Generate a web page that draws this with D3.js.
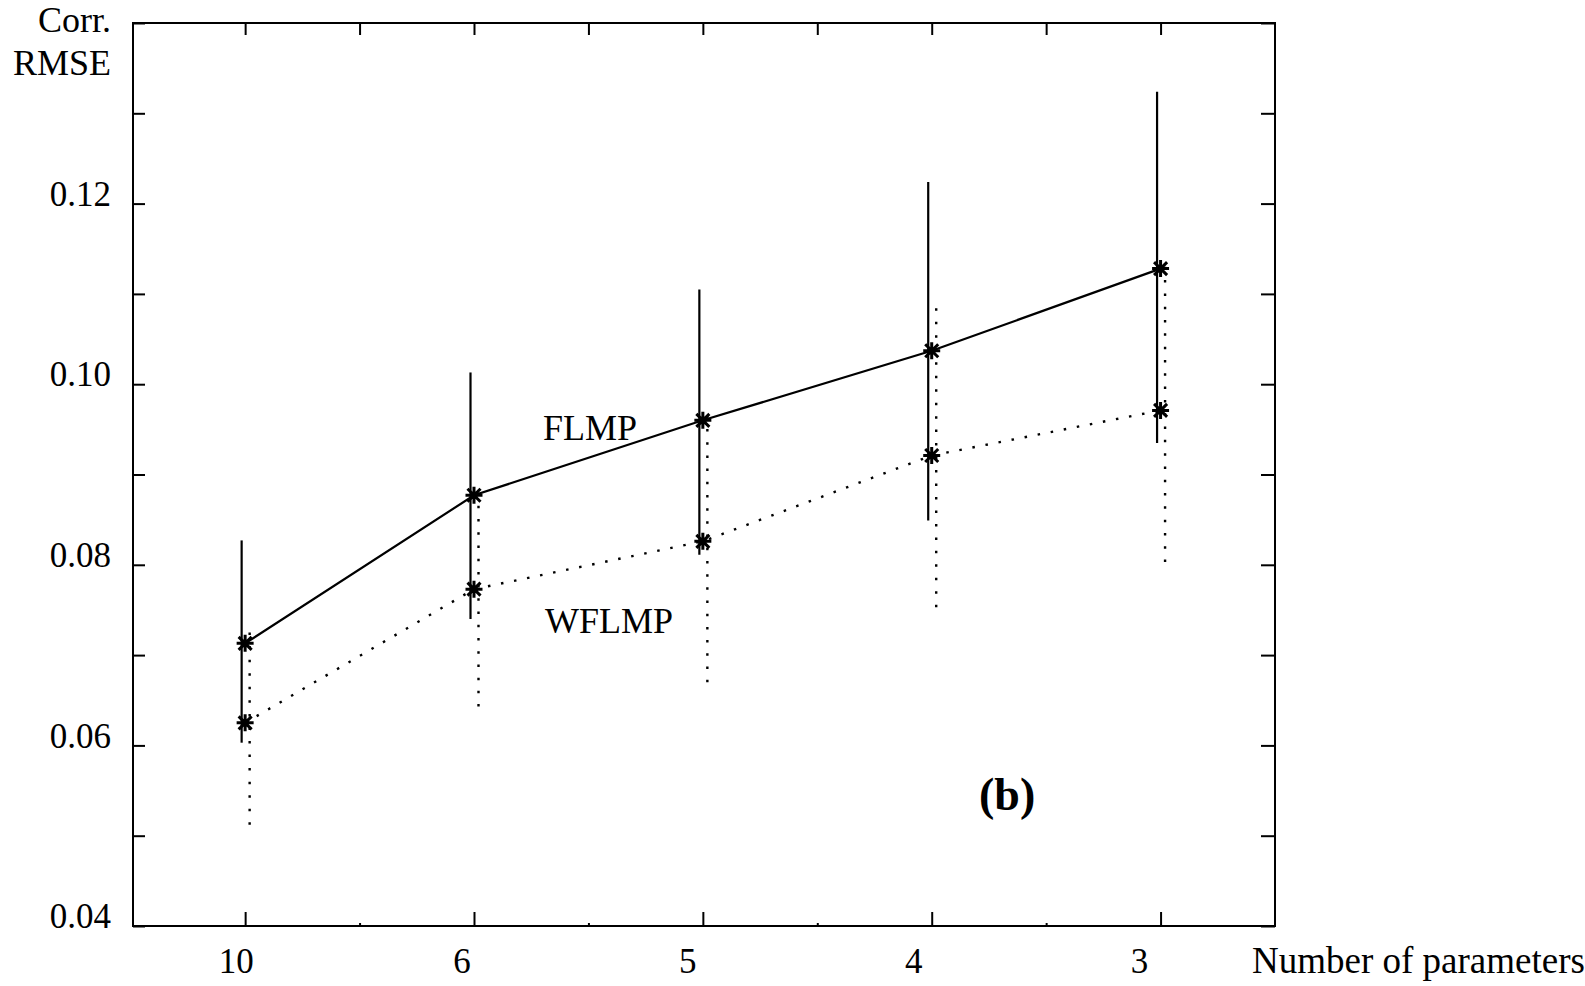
<!DOCTYPE html>
<html>
<head>
<meta charset="utf-8">
<script src="https://cdn.jsdelivr.net/npm/d3@7"></script>
<style>
  html, body { margin: 0; padding: 0; background: #fff; }
  svg { display: block; }
  text { font-family: "Liberation Serif", "Times New Roman", serif; fill: #000; }
</style>
</head>
<body>
<svg id="chart" width="1585" height="986"></svg>
<script>
// ---- data ----
const categories = ["10", "6", "5", "4", "3"];
const flmp      = [0.0713, 0.0877, 0.0960, 0.1037, 0.1128];
const flmpLow   = [0.0603, 0.0740, 0.0811, 0.0849, 0.0935];
const flmpHigh  = [0.0827, 0.1013, 0.1105, 0.1224, 0.1324];
const wflmp     = [0.0625, 0.0773, 0.0826, 0.0921, 0.0971];
const wflmpLow  = [0.0512, 0.0643, 0.0670, 0.0753, 0.0803];
const wflmpHigh = [0.0725, 0.0880, 0.0965, 0.1084, 0.1130];
const yTickValues = [0.04, 0.05, 0.06, 0.07, 0.08, 0.09, 0.10, 0.11, 0.12, 0.13, 0.14];
const yLabelValues = [0.04, 0.06, 0.08, 0.10, 0.12];
const seriesLabels = ["FLMP", "WFLMP"];
const yTitle = ["Corr.", "RMSE"];
const xTitle = "Number of parameters";
const panelLabel = "(b)";

// ---- layout ----
const svg = d3.select("#chart");
const L = 133, R = 1275, T = 23, B = 926;
const idx = categories.map((d, i) => i);
const x = d3.scaleLinear().domain([-0.49, 4.5]).range([L, R]);
const y = d3.scaleLinear().domain([0.04, 0.14]).range([B, T]);
const xLab = d3.scaleLinear().domain([0, 4]).range([x(0) - 9, x(4) - 21]);

svg.append("rect").attr("width", 1585).attr("height", 986).attr("fill", "#fff");

// axes (ticks inward)
const fmt = d3.format(".2f");
const yAxisL = d3.axisLeft(y).tickValues(yTickValues).tickSize(-12).tickPadding(22)
  .tickFormat(d => yLabelValues.some(v => Math.abs(v - d) < 1e-9) ? fmt(d) : "");
const gL = svg.append("g").attr("transform", `translate(${L},0)`).call(yAxisL);
gL.selectAll("text").attr("dy", "0.05em").style("font-size", "35px")
  .style("font-family", "Liberation Serif, serif");

const yAxisR = d3.axisRight(y).tickValues(yTickValues).tickSize(-14).tickFormat("");
svg.append("g").attr("transform", `translate(${R},0)`).call(yAxisR);

const topTicks = d3.range(0, 4.01, 0.5);
const xAxisT = d3.axisTop(x).tickValues(topTicks).tickSize(-12).tickFormat("");
svg.append("g").attr("transform", `translate(0,${T})`).call(xAxisT);

const xAxisB = d3.axisBottom(x).tickValues(idx).tickSize(-14).tickFormat("");
svg.append("g").attr("transform", `translate(0,${B})`).call(xAxisB);
const xAxisBm = d3.axisBottom(x).tickValues([0.5, 1.5, 2.5, 3.5]).tickSize(-3).tickFormat("");
svg.append("g").attr("transform", `translate(0,${B})`).call(xAxisBm);

svg.selectAll(".domain").remove();
svg.selectAll(".tick line").attr("stroke", "#000").attr("stroke-width", 2);

// frame
svg.append("rect").attr("x", L).attr("y", T).attr("width", R - L).attr("height", B - T)
  .attr("fill", "none").attr("stroke", "#000").attr("stroke-width", 2);

// x labels
svg.append("g").selectAll("text").data(categories).join("text")
  .attr("x", (d, i) => xLab(i)).attr("y", 973).attr("text-anchor", "middle")
  .style("font-size", "35px").text(d => d);

svg.append("text").attr("x", 1252).attr("y", 973).style("font-size", "37px").text(xTitle);

// y title
svg.append("g").selectAll("text").data(yTitle).join("text")
  .attr("x", 111).attr("y", (d, i) => i === 0 ? 32 : 75).attr("text-anchor", "end")
  .style("font-size", "36px").text(d => d);

// dotted pattern fitted so both ends carry a dot
const dotLen = 2.5, dotStep = 13.3;
function fitDash(len) {
  const n = Math.max(1, Math.round((len - dotLen) / dotStep));
  const step = (len - dotLen) / n;
  return `${dotLen},${step - dotLen}`;
}

// error bars
const offF = -3.5, offW = 4.5;
svg.append("g").selectAll("line").data(idx).join("line")
  .attr("x1", i => x(i) + offW).attr("x2", i => x(i) + offW)
  .attr("y1", i => y(wflmpHigh[i])).attr("y2", i => y(wflmpLow[i]))
  .attr("stroke", "#000").attr("stroke-width", 2.4)
  .attr("stroke-dasharray", i => fitDash(y(wflmpLow[i]) - y(wflmpHigh[i])));

svg.append("g").selectAll("line").data(idx).join("line")
  .attr("x1", i => x(i) + offF).attr("x2", i => x(i) + offF)
  .attr("y1", i => y(flmpHigh[i])).attr("y2", i => y(flmpLow[i]))
  .attr("stroke", "#000").attr("stroke-width", 2.2);

// lines
const lineF = d3.line().x(i => x(i)).y(i => y(flmp[i]));
const lineW = d3.line().x(i => x(i)).y(i => y(wflmp[i]));
svg.append("path").attr("d", lineF(idx)).attr("fill", "none").attr("stroke", "#000").attr("stroke-width", 2.2);
svg.append("path").attr("d", lineW(idx)).attr("fill", "none").attr("stroke", "#000")
  .attr("stroke-width", 2.4).attr("stroke-dasharray", `${dotLen},${dotStep - dotLen}`);

// star markers (+ and x)
function starPath(cx, cy) {
  const a = 8.5, b = 6.5;
  return `M${cx - a},${cy}L${cx + a},${cy}M${cx},${cy - a}L${cx},${cy + a}` +
         `M${cx - b},${cy - b}L${cx + b},${cy + b}M${cx - b},${cy + b}L${cx + b},${cy - b}`;
}
const stars = svg.append("g");
[flmp, wflmp].forEach(arr => {
  stars.append("g").selectAll("path").data(idx).join("path")
    .attr("d", i => starPath(x(i), y(arr[i])))
    .attr("stroke", "#000").attr("stroke-width", 3).attr("fill", "none");
});

// series labels
svg.append("text").attr("x", 543).attr("y", 440).style("font-size", "36px").text(seriesLabels[0]);
svg.append("text").attr("x", 545).attr("y", 633).style("font-size", "36px").text(seriesLabels[1]);

// panel label
svg.append("text").attr("x", 979).attr("y", 810).style("font-size", "46px")
  .style("font-weight", "bold").text(panelLabel);
</script>
</body>
</html>
